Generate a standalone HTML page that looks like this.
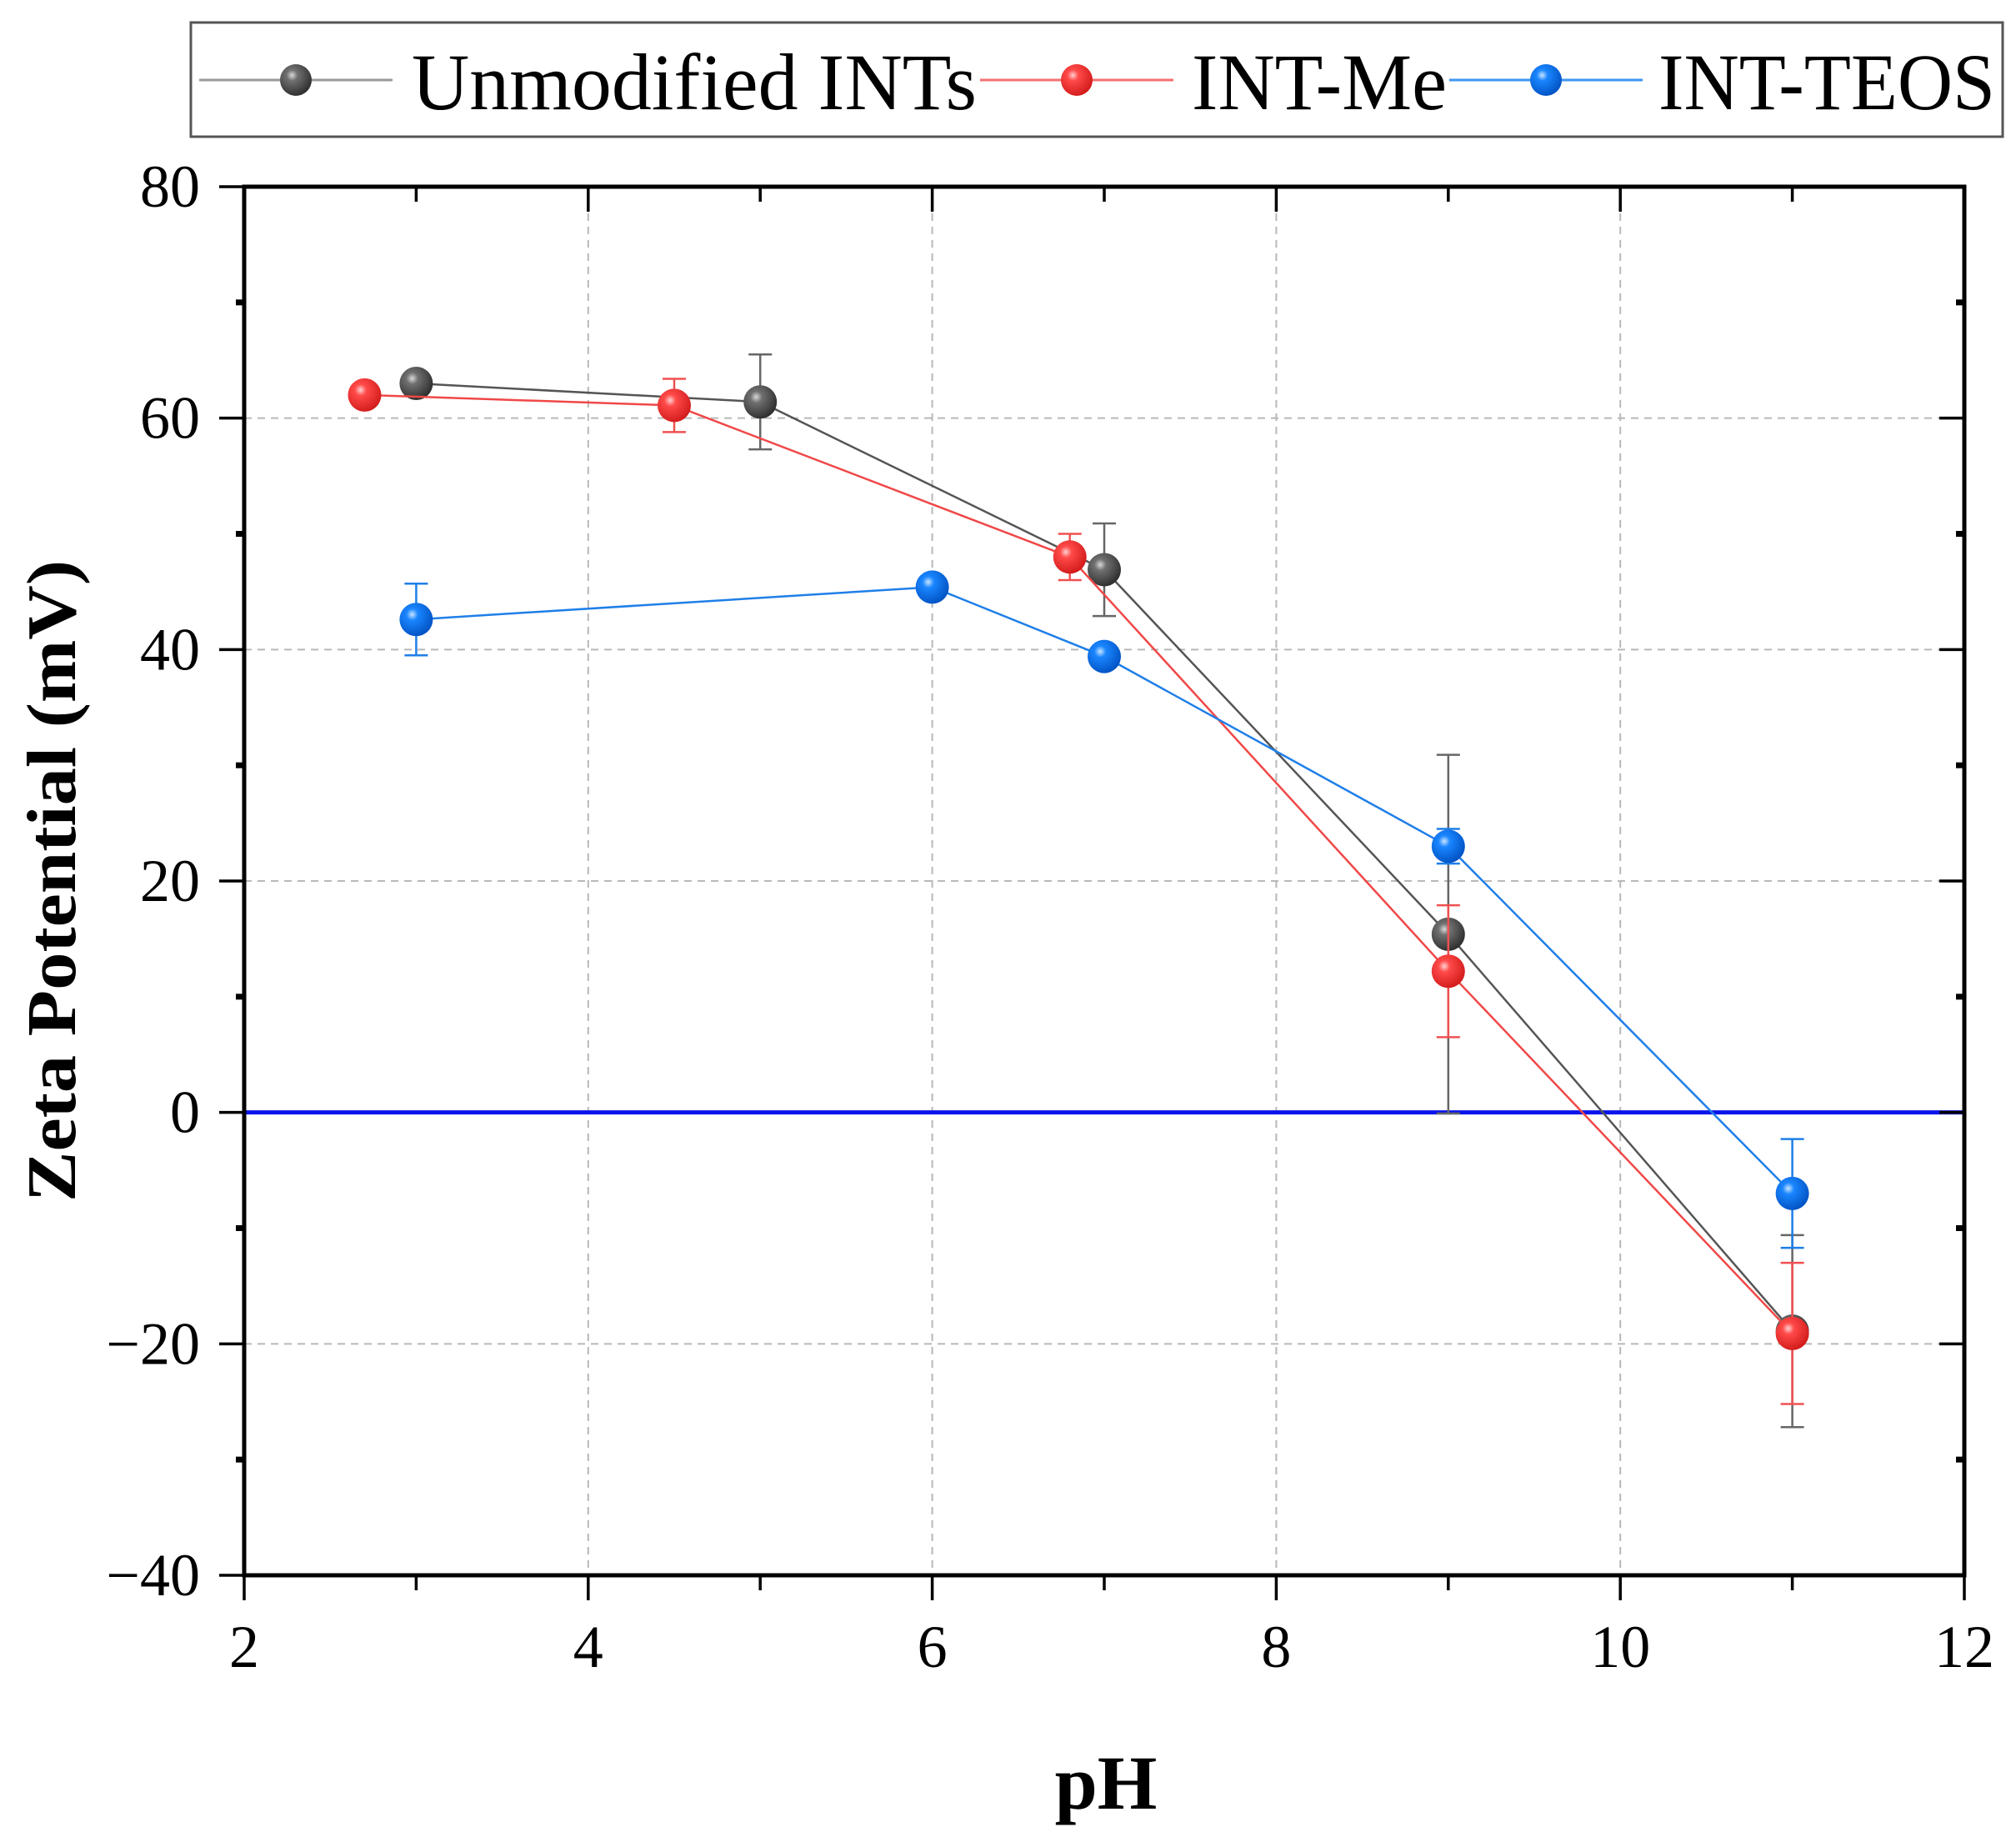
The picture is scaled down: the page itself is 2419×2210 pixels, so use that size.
<!DOCTYPE html>
<html><head><meta charset="utf-8">
<style>
html,body{margin:0;padding:0;background:#fff;}
svg{display:block;font-family:"Liberation Serif",serif;}
</style></head>
<body>
<svg id="chart" width="2419" height="2210" viewBox="0 0 2419 2210" xmlns="http://www.w3.org/2000/svg">
<defs>
<radialGradient id="gGray" cx="0.38" cy="0.35" r="0.7"><stop offset="0" stop-color="#d8d8d8"/><stop offset="0.25" stop-color="#707070"/><stop offset="1" stop-color="#2a2a2a"/></radialGradient>
<radialGradient id="gRed" cx="0.38" cy="0.35" r="0.7"><stop offset="0" stop-color="#ffd0d0"/><stop offset="0.25" stop-color="#ff4a4a"/><stop offset="1" stop-color="#d01818"/></radialGradient>
<radialGradient id="gBlue" cx="0.38" cy="0.35" r="0.7"><stop offset="0" stop-color="#c8e4ff"/><stop offset="0.25" stop-color="#1a86ff"/><stop offset="1" stop-color="#0050c0"/></radialGradient>
</defs>
<g id="grid"></g>
<g id="zero"></g>
<g id="series"></g>
<g id="axes"></g>
<g id="legend"></g>
<text x="0" y="0" transform="translate(90,1057) rotate(-90)" text-anchor="middle" font-size="84" font-weight="bold" textLength="770" lengthAdjust="spacingAndGlyphs">Zeta Potential (mV)</text>
<text x="1327" y="2170" text-anchor="middle" font-size="92" font-weight="bold">pH</text>
</svg>
<script>
const xTicks = [2, 4, 6, 8, 10, 12];
const yTicks = [-40, -20, 0, 20, 40, 60, 80];
const yTickLabels = ["\u221240", "\u221220", "0", "20", "40", "60", "80"];
const seriesNames = ["Unmodified INTs", "INT-Me", "INT-TEOS"];
const grayX = [3, 5, 7, 9, 11];
const grayY = [63, 61.4, 46.9, 15.4, -18.9];
const grayErr = [0.5, 4.1, 4, 15.5, 8.3];
const redX = [2.7, 4.5, 6.8, 9, 11];
const redY = [62, 61.1, 48, 12.2, -19.1];
const redErr = [0.3, 2.3, 2, 5.7, 6.1];
const blueX = [3, 6, 7, 9, 11];
const blueY = [42.6, 45.4, 39.4, 23, -7];
const blueErr = [3.1, 0.3, 0.3, 1.5, 4.7];

const NS = "http://www.w3.org/2000/svg";
const L = 293, R = 2357, T = 224, B = 1890;
const xMin = 2, xMax = 12, yMin = -40, yMax = 80;
function sx(v){ return L + (v - xMin) / (xMax - xMin) * (R - L); }
function sy(v){ return B - (v - yMin) / (yMax - yMin) * (B - T); }
function mk(tag, attrs, parent){
  const e = document.createElementNS(NS, tag);
  for (const k in attrs) e.setAttribute(k, attrs[k]);
  parent.appendChild(e);
  return e;
}
const grid = document.getElementById('grid');
const axes = document.getElementById('axes');
const seriesG = document.getElementById('series');
const legend = document.getElementById('legend');
const zero = document.getElementById('zero');

xTicks.forEach(v => {
  if (v === xMin || v === xMax) return;
  const l = mk('line', {x1: sx(v), x2: sx(v), y1: T, y2: B, stroke: '#b8b8b8', 'stroke-width': 2, 'stroke-dasharray': '9,7'}, grid);
  
  
});
yTicks.forEach(v => {
  if (v === yMin || v === yMax || v === 0) return;
  const l = mk('line', {x1: L, x2: R, y1: sy(v), y2: sy(v), stroke: '#b8b8b8', 'stroke-width': 2, 'stroke-dasharray': '9,7'}, grid);
  
  
});
const zl = mk('line', {x1: L, x2: R, y1: sy(0), y2: sy(0), stroke: '#0a14e8', 'stroke-width': 5}, zero);



function drawSeries(xs, ys, errs, lineColor, errColor, grad, name){
  const g = mk('g', {}, seriesG);
  
  
  const pts = xs.map((x, i) => sx(x) + ',' + sy(ys[i])).join(' ');
  const pl = mk('polyline', {points: pts, fill: 'none', stroke: lineColor, 'stroke-width': 2.5}, g);
  
  
  xs.forEach((x, i) => {
    const cx = sx(x), top = sy(ys[i] + errs[i]), bot = sy(ys[i] - errs[i]);
    const eb = mk('path', {d: `M${cx},${top}V${bot}M${cx-14},${top}H${cx+14}M${cx-14},${bot}H${cx+14}`, stroke: errColor, 'stroke-width': 2.5, fill: 'none'}, g);
    
    
  });
  xs.forEach((x, i) => {
    const c = mk('circle', {cx: sx(x), cy: sy(ys[i]), r: 20, fill: 'url(#' + grad + ')'}, g);
    
    
  });
}
drawSeries(grayX, grayY, grayErr, '#555555', '#666666', 'gGray', 'unmodified-ints');
drawSeries(redX, redY, redErr, '#f04848', '#f05050', 'gRed', 'int-me');
drawSeries(blueX, blueY, blueErr, '#1f7fe8', '#1f7fe8', 'gBlue', 'int-teos');

const fr = mk('rect', {x: L, y: T, width: R - L, height: B - T, fill: 'none', stroke: '#000', 'stroke-width': 5}, axes);


for (let v = xMin; v <= xMax; v += 1) {
  const major = (v % 2 === 0);
  const len = major ? 30 : 18;
  const x = sx(v);
  const tb = mk('line', {x1: x, x2: x, y1: B, y2: B + len, stroke: '#000', 'stroke-width': 3.5}, axes);
  
  
  const tt = mk('line', {x1: x, x2: x, y1: T, y2: T + len, stroke: '#000', 'stroke-width': 3.5}, axes);
  
  
}
xTicks.forEach(v => {
  const t = mk('text', {x: sx(v), y: 2000, 'text-anchor': 'middle', 'font-size': 72}, axes);
  t.textContent = String(v);
  
  
});
for (let v = yMin; v <= yMax; v += 10) {
  const major = (v % 20 === 0);
  const len = major ? 30 : 10;
  const y = sy(v);
  const tl = mk('line', {x1: L - len, x2: L, y1: y, y2: y, stroke: '#000', 'stroke-width': major ? 3.5 : 7}, axes);
  
  
  const tr = mk('line', {x1: R - len, x2: R, y1: y, y2: y, stroke: '#000', 'stroke-width': major ? 3.5 : 7}, axes);
  
  
}
yTicks.forEach((v, i) => {
  const t = mk('text', {x: 240, y: sy(v) + 24, 'text-anchor': 'end', 'font-size': 72}, axes);
  t.textContent = yTickLabels[i];
  
  
});

const lb = mk('rect', {x: 229, y: 27, width: 2174, height: 137, fill: '#fff', stroke: '#555', 'stroke-width': 3}, legend);


const legLineX = [239, 1176, 1739];
const legTextX = [494, 1430, 1990];
const legTextLen = [678, 306, 404];
const legColors = ['#999999', '#f47070', '#3c96f0'];
const legGrads = ['gGray', 'gRed', 'gBlue'];
seriesNames.forEach((n, i) => {
  const g = mk('g', {}, legend);
  
  
  mk('line', {x1: legLineX[i], x2: legLineX[i] + 232, y1: 96, y2: 96, stroke: legColors[i], 'stroke-width': 3}, g);
  mk('circle', {cx: legLineX[i] + 116, cy: 96, r: 19, fill: 'url(#' + legGrads[i] + ')'}, g);
  const t = mk('text', {x: legTextX[i], y: 131, 'font-size': 96, textLength: legTextLen[i], lengthAdjust: 'spacingAndGlyphs'}, g);
  t.textContent = n;
  
  
});
</script>
</body></html>
